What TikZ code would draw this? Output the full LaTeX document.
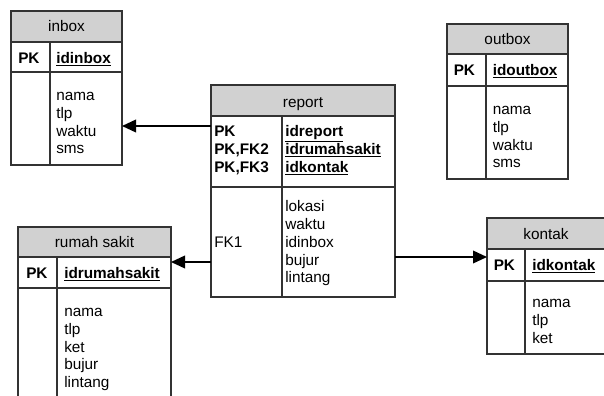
\documentclass[tikz,border=0pt]{standalone}
\usepackage{fontspec}
\setmainfont{Liberation Sans}
\usetikzlibrary{arrows.meta,fit}
\tikzset{
  tbl/.style={draw=black!80, line width=0.9pt, inner sep=0pt, outer sep=0pt},
  hdr/.style={fill=black!18},
  sepline/.style={draw=black!80, line width=0.9pt},
  ttl/.style={anchor=base, inner sep=0pt, font=\fontsize{11.5}{13}\selectfont},
  txt/.style={anchor=base west, inner sep=0pt, font=\fontsize{11.5}{13}\selectfont},
  key/.style={txt, font=\fontsize{11.5}{13}\selectfont\bfseries},
  arr/.style={line width=1.2pt, -{Triangle[length=10.5pt,width=9.5pt]}},
}
\newcommand\erbox[8]{%
  \fill[hdr] (#2,#3) rectangle (#4,#6);
  \draw[sepline] (#2,#6) -- (#4,#6) (#2,#7) -- (#4,#7) (#8,#6) -- (#8,#5);
  \node[tbl, fit={(#2,#3) (#4,#5)}] (#1) {};
}
\newcommand\attrs[4]{%
  \foreach \t [count=\i] in {#4} \node[txt] (#1-\i) at (#2, {#3+(\i-1)*17.8}) {\t};
}
\newcommand\idtxt[1]{\underline{\textbf{#1}}}
\begin{document}
\begin{tikzpicture}[x=0.75pt, y=-0.75pt]
  \useasboundingbox (0,0) rectangle (604,396);
  \fill[white] (0,0) rectangle (604,396);
  \clip (0,0) rectangle (604,396);

  % inbox
  \erbox{inbox}{11}{11}{122}{165}{42}{72}{50}
  \node[ttl] (inbox-t) at (66.5,31.5) {inbox};
  \node[key] (inbox-pk) at (18,63) {PK};
  \node[txt] (inbox-id) at (56,63) {\idtxt{idinbox}};
  \attrs{inbox-a}{56}{100.5}{nama,tlp,waktu,sms}

  % outbox
  \erbox{outbox}{447}{24}{568}{179}{54}{86}{486}
  \node[ttl] (outbox-t) at (507.5,44.5) {outbox};
  \node[key] (outbox-pk) at (453.5,75) {PK};
  \node[txt] (outbox-id) at (492.5,75) {\idtxt{idoutbox}};
  \attrs{outbox-a}{492.5}{114.5}{nama,tlp,waktu,sms}

  % report
  \erbox{report}{211}{85}{395}{297}{116}{187}{282}
  \node[ttl] (report-t) at (303,107) {report};
  \node[key] (report-k1) at (214,136.7) {PK};
  \node[key] (report-k2) at (214,154.5) {PK,FK2};
  \node[key] (report-k3) at (214,172.3) {PK,FK3};
  \node[txt] (report-i1) at (285,136.7) {\idtxt{idreport}};
  \node[txt] (report-i2) at (285,154.5) {\idtxt{idrumahsakit}};
  \node[txt] (report-i3) at (285,172.3) {\idtxt{idkontak}};
  \attrs{report-a}{285}{211.7}{lokasi,waktu,idinbox,bujur,lintang}
  \node[txt] (report-fk) at (214,247.5) {FK1};

  % rumah sakit
  \erbox{rs}{18}{227}{171}{410}{257}{288}{57}
  \node[ttl] (rs-t) at (94.5,247) {rumah sakit};
  \node[key] (rs-pk) at (26,278) {PK};
  \node[txt] (rs-id) at (64,278) {\idtxt{idrumahsakit}};
  \attrs{rs-a}{64}{316.5}{nama,tlp,ket,bujur,lintang}

  % kontak
  \erbox{kontak}{487}{218}{605}{354}{249}{281}{525}
  \node[ttl] (kontak-t) at (546,239) {kontak};
  \node[key] (kontak-pk) at (493.5,270.5) {PK};
  \node[txt] (kontak-id) at (532,270.5) {\idtxt{idkontak}};
  \attrs{kontak-a}{532}{307.5}{nama,tlp,ket}

  % connectors
  \coordinate (y1) at (0,126);
  \coordinate (y2) at (0,262);
  \coordinate (y3) at (0,257);
  \draw[arr] (report.west |- y1) -- (inbox.east |- y1);
  \draw[arr] (report.west |- y2) -- (rs.east |- y2);
  \draw[arr] (report.east |- y3) -- (kontak.west |- y3);
\end{tikzpicture}
\end{document}
